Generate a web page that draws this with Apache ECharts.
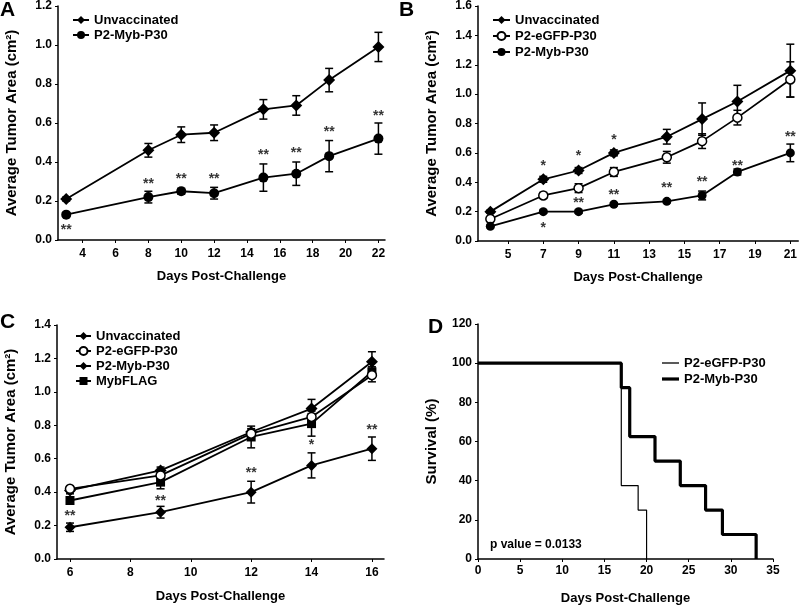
<!DOCTYPE html>
<html lang="en">
<head>
    <meta charset="UTF-8">
    <title>Tumor area and survival</title>
    <script type="text/javascript" src="https://cdn.jsdelivr.net/npm/echarts@6/dist/echarts.min.js"></script>
    <style>
        html, body { margin: 0; padding: 0; background: #fff; }
        #chart { width: 800px; height: 606px; }
    </style>
</head>
<body>
<div id="chart"></div>
<script type="text/javascript">
    // panel A
    const daysA = [3, 8, 10, 12, 15, 17, 19, 22];
    const unvacA = [0.21, 0.46, 0.54, 0.55, 0.67, 0.69, 0.82, 0.99];
    const unvacErrA = [0.01, 0.035, 0.04, 0.04, 0.05, 0.05, 0.06, 0.075];
    const mybA = [0.13, 0.22, 0.25, 0.24, 0.32, 0.34, 0.43, 0.52];
    const mybErrA = [0.01, 0.03, 0.015, 0.03, 0.07, 0.06, 0.08, 0.08];
    const starsA = [[3, 0.065, '**'], [8, 0.30, '**'], [10, 0.33, '**'], [12, 0.33, '**'],
        [15, 0.45, '**'], [17, 0.46, '**'], [19, 0.57, '**'], [22, 0.65, '**']];
    const ticksA = [4, 6, 8, 10, 12, 14, 16, 18, 20, 22];

    // panel B
    const daysB = [4, 7, 9, 11, 14, 16, 18, 21];
    const unvacB = [0.20, 0.42, 0.48, 0.60, 0.71, 0.83, 0.95, 1.16];
    const unvacErrB = [0.01, 0.02, 0.02, 0.02, 0.05, 0.11, 0.11, 0.18];
    const egfpB = [0.15, 0.31, 0.36, 0.47, 0.57, 0.68, 0.84, 1.10];
    const egfpErrB = [0.01, 0.02, 0.03, 0.03, 0.04, 0.05, 0.05, 0.12];
    const mybB = [0.10, 0.20, 0.20, 0.25, 0.27, 0.31, 0.47, 0.60];
    const mybErrB = [0.01, 0.01, 0.01, 0.01, 0.01, 0.03, 0.02, 0.06];
    const starsB = [[7, 0.53, '*'], [9, 0.60, '*'], [11, 0.71, '*'], [7, 0.11, '*'],
        [9, 0.28, '**'], [11, 0.33, '**'], [14, 0.38, '**'], [16, 0.42, '**'], [18, 0.53, '**'], [21, 0.73, '**']];
    const ticksB = [5, 7, 9, 11, 13, 15, 17, 19, 21];

    // panel C
    const daysC = [6, 9, 12, 14, 16];
    const unvacC = [0.41, 0.53, 0.76, 0.90, 1.18];
    const unvacErrC = [0.02, 0.02, 0.02, 0.055, 0.06];
    const egfpC = [0.42, 0.50, 0.75, 0.85, 1.10];
    const egfpErrC = [0.01, 0.02, 0.02, 0.02, 0.04];
    const mybC = [0.19, 0.28, 0.40, 0.56, 0.66];
    const mybErrC = [0.025, 0.035, 0.065, 0.075, 0.07];
    const flagC = [0.35, 0.46, 0.73, 0.81, 1.12];
    const flagErrC = [0.02, 0.04, 0.065, 0.075, 0.03];
    const starsC = [[6, 0.275, '**'], [9, 0.365, '**'], [12, 0.53, '**'], [14, 0.70, '*'], [16, 0.79, '**']];
    const ticksC = [6, 8, 10, 12, 14, 16];

    // panel D (Kaplan-Meier, step at each death)
    const survEgfp = [[0, 100], [17, 37.5], [19, 25], [20, 0]];
    const survMyb = [[0, 100], [17, 87.5], [18, 62.5], [21, 50], [24, 37.5], [27, 25], [29, 12.5], [33, 0]];

    const FONT = 'Liberation Sans, Arial, sans-serif';

    function pts(xs, ys) {
        return xs.map((x, i) => [x, ys[i]]);
    }

    function errs(xs, ys, es) {
        return xs.map((x, i) => [x, ys[i] - es[i], ys[i] + es[i]]);
    }

    function errSeries(idx, data) {
        return {
            type: 'custom',
            xAxisIndex: idx,
            yAxisIndex: idx,
            data: data,
            encode: {x: 0, y: [1, 2]},
            z: 1,
            silent: true,
            renderItem: function (params, api) {
                const top = api.coord([api.value(0), api.value(2)]);
                const bot = api.coord([api.value(0), api.value(1)]);
                const w = 4;
                const st = {stroke: '#000', lineWidth: 1.5};
                return {
                    type: 'group',
                    children: [
                        {type: 'line', shape: {x1: top[0], y1: top[1], x2: bot[0], y2: bot[1]}, style: st},
                        {type: 'line', shape: {x1: top[0] - w, y1: top[1], x2: top[0] + w, y2: top[1]}, style: st},
                        {type: 'line', shape: {x1: bot[0] - w, y1: bot[1], x2: bot[0] + w, y2: bot[1]}, style: st}
                    ]
                };
            }
        };
    }

    function starSeries(idx, data) {
        return {
            type: 'scatter',
            xAxisIndex: idx,
            yAxisIndex: idx,
            data: data,
            symbolSize: 1,
            itemStyle: {color: 'transparent'},
            silent: true,
            z: 5,
            label: {
                show: true,
                position: 'inside',
                offset: [0, 3],
                formatter: p => p.value[2],
                color: '#000',
                fontWeight: 'bold',
                fontSize: 14,
                fontFamily: FONT
            }
        };
    }

    function lineSeries(idx, name, data, symbol, size, fill) {
        return {
            type: 'line',
            name: name,
            xAxisIndex: idx,
            yAxisIndex: idx,
            data: data,
            symbol: symbol,
            symbolSize: size,
            showAllSymbol: true,
            z: 3,
            lineStyle: {color: '#000', width: 1.8},
            itemStyle: {color: fill || '#000', borderColor: '#000', borderWidth: fill ? 1.5 : 0}
        };
    }

    function xAxis(idx, min, max, ticks, gap) {
        return {
            type: 'value',
            gridIndex: idx,
            min: min,
            max: max,
            name: 'Days Post-Challenge',
            nameLocation: 'middle',
            nameGap: gap,
            nameTextStyle: {fontWeight: 'bold', fontSize: 13, color: '#000', fontFamily: FONT},
            axisLine: {lineStyle: {color: '#000', width: 1.5}},
            axisTick: {show: true, length: 3, customValues: ticks, lineStyle: {color: '#000', width: 1}},
            axisLabel: {customValues: ticks, margin: 8, fontWeight: 'bold', fontSize: 12, color: '#000', fontFamily: FONT},
            splitLine: {show: false}
        };
    }

    function yAxis(idx, max, interval, name, digits) {
        return {
            type: 'value',
            gridIndex: idx,
            min: 0,
            max: max,
            interval: interval,
            name: name,
            nameLocation: 'middle',
            nameGap: 39,
            nameTextStyle: {fontWeight: 'bold', fontSize: 15, color: '#000', fontFamily: FONT},
            axisLine: {show: true, lineStyle: {color: '#000', width: 1.5}},
            axisTick: {show: true, length: 3, lineStyle: {color: '#000', width: 1}},
            axisLabel: {
                margin: 6, fontWeight: 'bold', fontSize: 12, color: '#000', fontFamily: FONT,
                formatter: v => v.toFixed(digits)
            },
            splitLine: {show: false}
        };
    }

    function legend(left, top, names, width, gap, extra) {
        return Object.assign({
            left: left,
            top: top,
            orient: 'vertical',
            selectedMode: false,
            itemWidth: width,
            itemHeight: 10,
            itemGap: gap,
            data: names,
            formatter: n => n.split(':')[1],
            textStyle: {fontWeight: 'bold', fontSize: 13, color: '#000', fontFamily: FONT, lineHeight: 14}
        }, extra || {});
    }

    const tumor = 'Average Tumor Area (cm²)';

    const chart = echarts.init(document.getElementById('chart'), null, {renderer: 'canvas'});
    chart.setOption({
        animation: false,
        backgroundColor: '#fff',
        grid: [
            {left: 58, top: 6, width: 327, height: 234},
            {left: 478, top: 6, width: 321, height: 235},
            {left: 57, top: 325, width: 327, height: 234},
            {left: 478, top: 324, width: 295, height: 237}
        ],
        xAxis: [
            xAxis(0, 2.5, 22.4, ticksA, 30),
            xAxis(1, 3.3, 21.45, ticksB, 30),
            xAxis(2, 5.57, 16.4, ticksC, 31),
            {
                type: 'value', gridIndex: 3, min: 0, max: 35, interval: 5,
                name: 'Days Post-Challenge', nameLocation: 'middle', nameGap: 33,
                nameTextStyle: {fontWeight: 'bold', fontSize: 13, color: '#000', fontFamily: FONT},
                axisLine: {lineStyle: {color: '#000', width: 1.5}},
                axisTick: {length: 3, lineStyle: {color: '#000', width: 1}},
                axisLabel: {margin: 6, fontWeight: 'bold', fontSize: 12, color: '#000', fontFamily: FONT},
                splitLine: {show: false}
            }
        ],
        yAxis: [
            yAxis(0, 1.2, 0.2, tumor, 1),
            yAxis(1, 1.6, 0.2, tumor, 1),
            yAxis(2, 1.4, 0.2, tumor, 1),
            yAxis(3, 120, 20, 'Survival (%)', 0)
        ],
        legend: [
            legend(67, 8, ['A:Unvaccinated', 'A:P2-Myb-P30'], 16, 1),
            legend(487, 8, ['B:Unvaccinated', 'B:P2-eGFP-P30', 'B:P2-Myb-P30'], 17, 2),
            legend(70, 324, ['C:Unvaccinated', 'C:P2-eGFP-P30', 'C:P2-Myb-P30', 'C:MybFLAG'], 15, 1),
            legend(657, 351, ['D:P2-eGFP-P30'], 17, 0, {icon: 'rect', itemHeight: 1.3}),
            legend(657, 367, ['D:P2-Myb-P30'], 17, 0, {icon: 'rect', itemHeight: 3.2})
        ],
        graphic: [
            {type: 'text', left: 0, top: 0, style: {text: 'A', font: 'bold 21px ' + FONT, fill: '#000'}},
            {type: 'text', left: 399, top: 0, style: {text: 'B', font: 'bold 21px ' + FONT, fill: '#000'}},
            {type: 'text', left: 0, top: 312, style: {text: 'C', font: 'bold 21px ' + FONT, fill: '#000'}},
            {type: 'text', left: 428, top: 317, style: {text: 'D', font: 'bold 21px ' + FONT, fill: '#000'}},
            {type: 'text', left: 490, top: 539, style: {text: 'p value = 0.0133', font: 'bold 12px ' + FONT, fill: '#000'}}
        ],
        series: [
            // A
            errSeries(0, errs(daysA, unvacA, unvacErrA).concat(errs(daysA, mybA, mybErrA))),
            lineSeries(0, 'A:Unvaccinated', pts(daysA, unvacA), 'diamond', 12),
            lineSeries(0, 'A:P2-Myb-P30', pts(daysA, mybA), 'circle', 10),
            starSeries(0, starsA),
            // B
            errSeries(1, errs(daysB, unvacB, unvacErrB).concat(errs(daysB, egfpB, egfpErrB), errs(daysB, mybB, mybErrB))),
            lineSeries(1, 'B:Unvaccinated', pts(daysB, unvacB), 'diamond', 12),
            lineSeries(1, 'B:P2-eGFP-P30', pts(daysB, egfpB), 'circle', 9, '#fff'),
            lineSeries(1, 'B:P2-Myb-P30', pts(daysB, mybB), 'circle', 9),
            starSeries(1, starsB),
            // C
            errSeries(2, errs(daysC, unvacC, unvacErrC).concat(errs(daysC, egfpC, egfpErrC),
                errs(daysC, mybC, mybErrC), errs(daysC, flagC, flagErrC))),
            lineSeries(2, 'C:Unvaccinated', pts(daysC, unvacC), 'diamond', 12),
            lineSeries(2, 'C:MybFLAG', pts(daysC, flagC), 'rect', 9),
            lineSeries(2, 'C:P2-eGFP-P30', pts(daysC, egfpC), 'circle', 9, '#fff'),
            lineSeries(2, 'C:P2-Myb-P30', pts(daysC, mybC), 'diamond', 11),
            starSeries(2, starsC),
            // D
            {
                type: 'line', name: 'D:P2-eGFP-P30', xAxisIndex: 3, yAxisIndex: 3,
                data: survEgfp, step: 'end', symbol: 'none',
                lineStyle: {color: '#000', width: 1.2}, itemStyle: {color: '#000'}, z: 2
            },
            {
                type: 'line', name: 'D:P2-Myb-P30', xAxisIndex: 3, yAxisIndex: 3,
                data: survMyb, step: 'end', symbol: 'none',
                lineStyle: {color: '#000', width: 3.2}, itemStyle: {color: '#000'}, z: 3
            }
        ]
    });
</script>
</body>
</html>
